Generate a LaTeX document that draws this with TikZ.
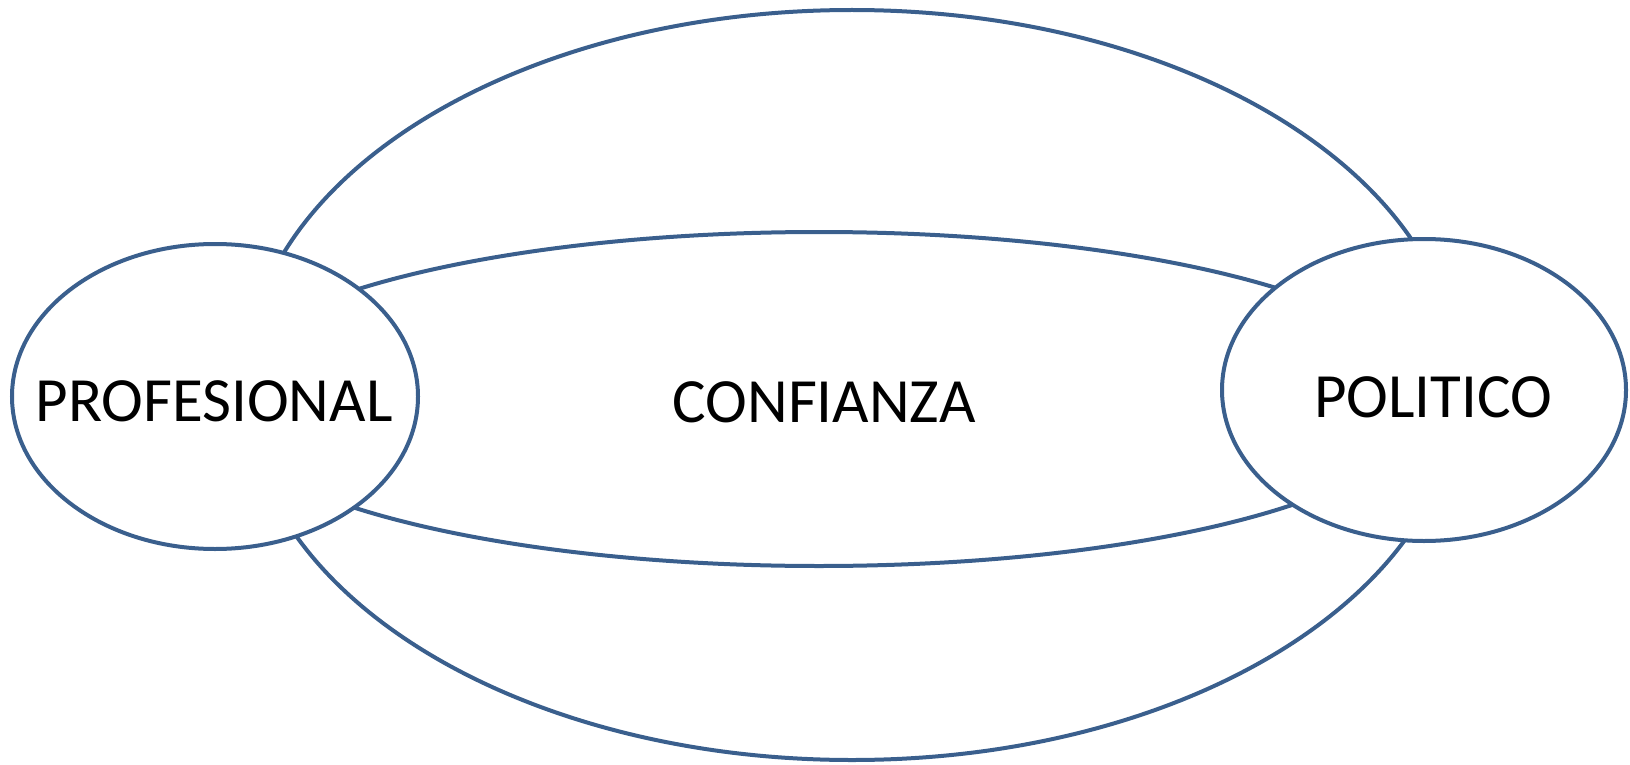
\documentclass[tikz,border=0pt]{standalone}
\usepackage{fontspec}
\setmainfont{Carlito}
\usetikzlibrary{shapes.geometric}
\definecolor{ln}{HTML}{3A5F8D}
\tikzset{
  ring/.style={draw=ln, line width=4pt},
  oval/.style={ring, ellipse, fill=white, inner sep=0pt},
  lbl/.style={font=\fontsize{63}{68}\selectfont, anchor=base, inner sep=0pt}
}
\begin{document}
\begin{tikzpicture}[x=1pt,y=-1pt]
\useasboundingbox (0,0) rectangle (1630,765);
\draw[ring] (852,385) ellipse [x radius=607, y radius=375];
\draw[ring] (819,399) ellipse [x radius=612, y radius=167];
\node[oval, minimum width=406pt, minimum height=305pt] (prof) at (215,396.5) {};
\node[oval, minimum width=404pt, minimum height=302pt] (pol) at (1424,390) {};
\node[lbl] (tprof) at (214,421) {PROFESIONAL};
\node[lbl] (tpol) at (1433,417) {POLITICO};
\node[lbl] (tconf) at (824,422) {CONFIANZA};
\end{tikzpicture}
\end{document}
